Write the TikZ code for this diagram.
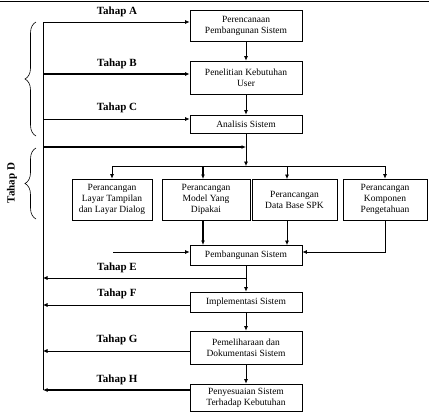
\documentclass[tikz,border=0pt]{standalone}
\usepackage{fontspec}
\setmainfont{Liberation Serif}
\usetikzlibrary{arrows.meta,positioning,decorations.pathreplacing}

\begin{document}
\begin{tikzpicture}[x=1pt,y=-1pt,
  box/.style={draw,line width=0.8pt,minimum width=112pt,inner sep=1pt,align=center,font=\fontsize{9.5}{11}\selectfont},
  sub/.style={box,minimum height=41pt},
  stage/.style={font=\bfseries\fontsize{11}{13}\selectfont},
  arrow/.style={-{Latex[length=4.5pt,width=4pt]},line width=0.7pt},
  tarrow/.style={arrow,line width=1.5pt},
  curly/.style={decorate,decoration={brace,amplitude=11pt},line width=0.6pt}
]
\useasboundingbox (0,0) rectangle (429,413);
\draw[line width=1.4pt] (0,1.5) -- (429,1.5);

% main column
\node[box,minimum height=31pt] (plan) at (246,25.5) {Perencanaan\\Pembangunan Sistem};
\node[box,minimum height=33pt] (needs) at (246,77.5) {Penelitian Kebutuhan\\User};
\node[box,minimum height=18pt] (anal) at (246,124) {Analisis Sistem};
\node[sub,minimum width=80pt] (layar) at (112,199.5) {Perancangan\\Layar Tampilan\\dan Layar Dialog};
\node[sub,minimum width=88pt] (model) at (206,199.5) {Perancangan\\Model Yang\\Dipakai};
\node[sub,minimum width=85pt] (dbase) at (294.5,199.5) {Perancangan\\Data Base SPK};
\node[sub,minimum width=84pt] (komp) at (385,199.5) {Perancangan\\Komponen\\Pengetahuan};
\node[box,minimum height=20pt] (build) at (246,255) {Pembangunan Sistem};
\node[box,minimum height=20pt] (impl) at (246,302) {Implementasi Sistem};
\node[box,minimum height=33pt] (pelihara) at (246,347.5) {Pemeliharaan dan\\Dokumentasi Sistem};
\node[box,minimum height=27pt] (sesuai) at (246,397.5) {Penyesuaian Sistem\\Terhadap Kebutuhan};

% left spine
\coordinate (spinetop) at (43,22);
\coordinate (spinebot) at (43,390);
\draw[line width=0.7pt] (spinetop) -- (spinebot);

\node[stage] (tA) at (117,12) {Tahap A};
\node[stage] (tB) at (117,64) {Tahap B};
\node[stage] (tC) at (117,108) {Tahap C};
\node[stage,rotate=90] (tD) at (12,183) {Tahap D};
\node[stage] (tE) at (117,268) {Tahap E};
\node[stage] (tF) at (117,294) {Tahap F};
\node[stage] (tG) at (117,340) {Tahap G};
\node[stage] (tH) at (117,380) {Tahap H};

\draw[curly] (36,136) -- (36,22);
\draw[curly] (36,219) -- (36,148);

\draw[arrow] (spinetop) -- (spinetop -| plan.west);
\draw[tarrow] (spinetop |- 0,74) -- (needs.west |- 0,74);
\draw[arrow] (spinetop |- 0,119) -- (anal.west |- 0,119);
\draw[arrow] (plan) -- (needs);
\draw[arrow] (needs) -- (anal);

% fork to the four design steps
\coordinate (fork) at (246,166);
\coordinate (dstop) at (246,147);
\draw[arrow] (anal.south) -- (fork);
\draw[tarrow] (spinetop |- dstop) -- (dstop);
\draw[line width=0.7pt] (layar.north |- fork) -- (komp.north |- fork);
\draw[arrow] (layar.north |- fork) -- (layar.north);
\draw[tarrow] (203,166) -- (203,179);
\draw[arrow] (287,166) -- (287,179);
\draw[arrow] (komp.north |- fork) -- (komp.north);

\draw[tarrow] (203,220) -- (203,245);
\draw[arrow] (287,220) -- (287,245);
\coordinate (lfeed) at (113,252);
\draw[arrow] (lfeed) -- (lfeed -| build.west);
\draw[arrow] (komp.south) |- ([yshift=3pt]build.east);

% stages E to H back to the spine
\coordinate (eturn) at (246,278);
\draw[line width=0.7pt] (build.south) -- (eturn);
\draw[arrow] (eturn) -- (eturn -| spinetop);
\draw[arrow] (eturn) -- (impl.north);
\draw[arrow] ([yshift=-3pt]impl.west) -- ([yshift=-3pt]impl.west -| spinetop);
\draw[arrow] (impl) -- (pelihara);
\draw[arrow] ([yshift=-3.5pt]pelihara.west) -- ([yshift=-3.5pt]pelihara.west -| spinetop);
\draw[arrow] (pelihara) -- (sesuai);
\draw[tarrow] (sesuai.west |- spinebot) -- (spinebot);
\end{tikzpicture}
\end{document}
